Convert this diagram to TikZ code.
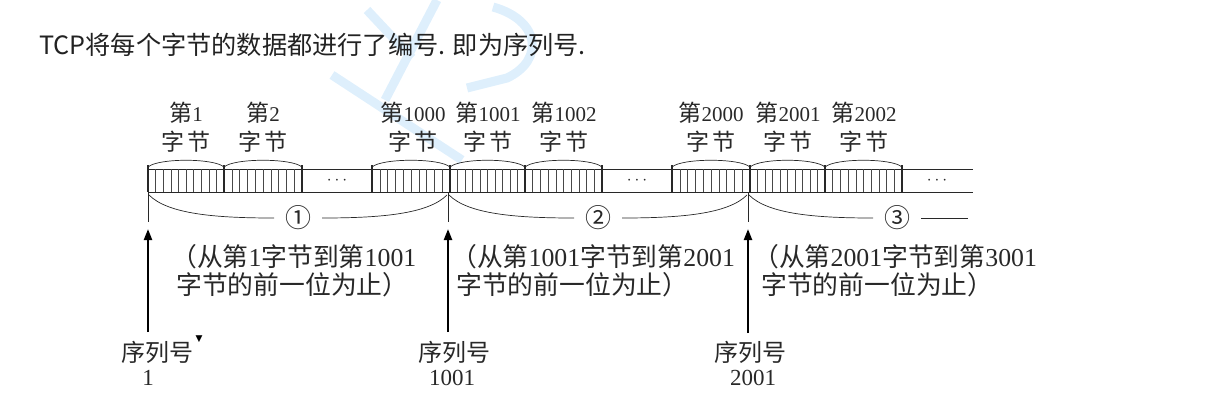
\documentclass[tikz,border=0pt]{standalone}
\usepackage{fontspec}
\setmainfont{Liberation Serif}
\newfontfamily\cjk{Noto Sans CJK SC}
\newfontfamily\symfont{DejaVu Sans}
\usetikzlibrary{arrows.meta}
\newcommand\zh[1]{{\cjk #1}}
\definecolor{ink}{RGB}{40,40,40}
\definecolor{wm}{RGB}{222,239,252}
\begin{document}
\begin{tikzpicture}[x=1pt,y=-1pt,
  lbl/.style={font=\fontsize{21}{24}\selectfont, inner sep=0pt, text=ink},
  big/.style={font=\fontsize{23}{26}\selectfont, inner sep=0pt, text=ink},
  note/.style={font=\fontsize{25.8}{27}\selectfont, inner sep=0pt, text=ink, anchor=west},
  circ/.style={font=\cjk\fontsize{26}{26}\selectfont, inner sep=0pt, text=ink},
  tape/.style={line width=0.9pt, draw=ink},
  bitline/.style={line width=0.55pt, draw=ink!85},
  thin/.style={line width=0.7pt, draw=ink},
  seqarrow/.style={line width=2.2pt, draw=black, -{Triangle[length=11pt,width=8pt]}},
  wmark/.style={line width=9pt, draw=wm, line cap=butt}]
\useasboundingbox (0,0) rectangle (1222,400);
% watermark
\draw[wmark] (367,10) -- (412,58);
\draw[wmark] (437,0) -- (385,100);
\draw[wmark] (332,75) -- (462,160);
\draw[wmark] (493,7) .. controls (540,20) and (545,60) .. (507,78) -- (467,88);
% title
\node[anchor=west, inner sep=0pt, font=\cjk\fontsize{25.2}{28}\selectfont, text={rgb,255:red,34;green,34;blue,34}] (title) at (39,45) {TCP将每个字节的数据都进行了编号. 即为序列号.};
% tape
\draw[tape] (148,169) -- (973,169);
\draw[tape] (148,192) -- (973,192);
\foreach \a/\b in {148/224, 224/302, 372/450, 450/525, 525/602, 672/750, 750/825, 825/902}{
  \foreach \k in {1,...,9}{
    \pgfmathsetmacro\xx{\a+(\b-\a)*\k/10}
    \draw[bitline] (\xx,169) -- (\xx,192);
  }
  \draw[tape, line width=1.2pt] (\a,165) -- (\a,192);
  \draw[tape, line width=1.2pt] (\b,165) -- (\b,192);
  \draw[thin] (\a,167) .. controls (\a+10,158) and (\b-10,158) .. (\b,167);
}
\foreach \c/\n in {337/d1, 637/d2, 937/d3}{
  \node[font=\fontsize{18}{18}\selectfont, text=ink, inner sep=0pt] (\n) at (\c,181) {$\cdots$};
}
% byte labels
\foreach \c/\n [count=\i] in {186/1, 263/2, 413/1000, 488/1001, 564/1002, 711/2000, 788/2001, 864/2002}{
  \node[lbl] (bn\i) at (\c,113) {{\cjk\fontsize{23}{24}\selectfont 第}\n};
  \node[lbl] (bz\i) at (\c,142) {{\cjk\fontsize{23}{24}\selectfont 字\hspace{3pt}节}};
}
% braces
\foreach \x in {148,448,748}{
  \draw[thin] (\x,192) -- (\x,222);
}
\draw[thin] (149,195) .. controls (168,214) and (215,218) .. (274,218);
\draw[thin] (322,218) .. controls (381,218) and (428,214) .. (447,195);
\draw[thin] (449,195) .. controls (468,214) and (515,218) .. (574,218);
\draw[thin] (622,218) .. controls (681,218) and (728,214) .. (747,195);
\draw[thin] (749,195) .. controls (768,214) and (815,218) .. (873,218);
\draw[thin] (921,218) -- (968,218);
\node[circ] (c1) at (298,218) {①};
\node[circ] (c2) at (598,218) {②};
\node[circ] (c3) at (897,218) {③};
% range notes
\node[note] (r1a) at (171,257) {\zh{（从第}1\zh{字节到第}1001};
\node[note] (r1b) at (176,285) {\zh{字节的前一位为止）}};
\node[note] (r2a) at (451,257) {\zh{（从第}1001\zh{字节到第}2001};
\node[note] (r2b) at (456,285) {\zh{字节的前一位为止）}};
\node[note] (r3a) at (753,257) {\zh{（从第}2001\zh{字节到第}3001};
\node[note] (r3b) at (761,285) {\zh{字节的前一位为止）}};
% sequence numbers
\node[big, font=\cjk\fontsize{24}{26}\selectfont] (q1) at (157,352) {序列号};
\node[inner sep=0pt, font=\symfont\fontsize{9}{9}\selectfont, text=black] (tri) at (199,339) {▼};
\node[big] (n1) at (148,378) {1};
\node[big, font=\cjk\fontsize{24}{26}\selectfont] (q2) at (454,352) {序列号};
\node[big] (n2) at (452,378) {1001};
\node[big, font=\cjk\fontsize{24}{26}\selectfont] (q3) at (750,352) {序列号};
\node[big] (n3) at (753,378) {2001};
\coordinate (s1) at (148,332); \coordinate (t1) at (148,229);
\coordinate (s2) at (448,332); \coordinate (t2) at (448,229);
\coordinate (s3) at (748,333); \coordinate (t3) at (748,229);
\draw[seqarrow] (s1) -- (t1);
\draw[seqarrow] (s2) -- (t2);
\draw[seqarrow] (s3) -- (t3);
\end{tikzpicture}
\end{document}
